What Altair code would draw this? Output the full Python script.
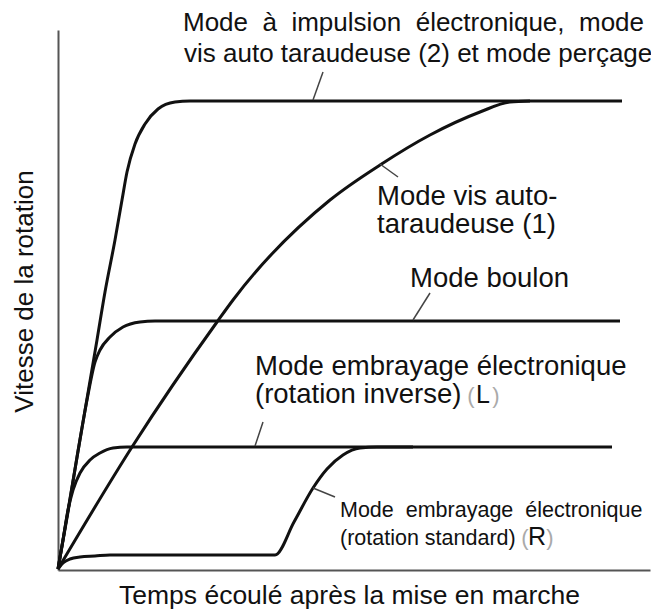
import altair as alt
import pandas as pd

# ---- curve data (time after start, rotation speed) ----
impulse_t = [0, 39, 47, 57, 64, 69, 77, 87, 100, 117, 132, 564]
impulse_v = [1, 230, 278, 330, 370, 398, 426, 446, 461, 468, 469, 469]
vis1_t = [0, 74, 159, 175, 272, 322, 372, 422, 452, 472]
vis1_v = [1, 123, 248, 270, 370, 405, 435, 458, 468, 469]
bolt_t = [0, 10, 19, 29, 37, 42, 52, 65, 82, 97, 562]
bolt_v = [1, 58, 113, 170, 208, 220, 233, 243, 248, 249, 249]
rev_t = [0, 5, 10, 15, 22, 32, 42, 55, 69, 554]
rev_v = [1, 30, 60, 80, 97, 110, 117, 122, 123, 123]
std_t = [0, 5, 12, 22, 37, 52, 217, 236, 255, 269, 285, 302, 319, 355]
std_v = [1, 7, 11, 13, 14, 15, 15, 48, 82, 101, 115, 122, 123, 123]

# ---- annotation texts ----
top_labels = [
    "Mode\u00a0 à\u00a0 impulsion\u00a0 électronique,\u00a0 mode",
    "vis auto taraudeuse (2) et mode perçage",
]
top_lx = [125, 126]
top_ly = [539, 508]

big_labels = [
    "Mode vis auto-",
    "taraudeuse (1)",
    "Mode boulon",
    "Mode embrayage électronique",
    "(rotation inverse)",
]
big_lx = [319, 319, 352, 197, 197]
big_ly = [365, 337, 283, 195, 167]

small_labels = ["Mode\u00a0\u00a0embrayage\u00a0\u00a0électronique", "(rotation standard)"]
small_lx = [282, 282]
small_ly = [53, 25]

sym_letters = ["L", "R"]
sym_x = [425, 479]
sym_y = [167, 25]
br_left_x = [413, 467]
br_right_x = [438, 492]

# leader lines
lead_x = [255, 322, 355, 197, 255]
lead_y = [470, 406, 250, 124, 82]
lead_x2 = [265, 340, 372, 205, 277]
lead_y2 = [498, 393, 277, 148, 73]

series = []
for name, ts, vs in [
    ("impulse", impulse_t, impulse_v),
    ("vis1", vis1_t, vis1_v),
    ("bolt", bolt_t, bolt_v),
    ("rev", rev_t, rev_v),
    ("std", std_t, std_v),
]:
    for t, v in zip(ts, vs):
        series.append({"mode": name, "t": t, "v": v})
curves_df = pd.DataFrame(series)

FONT = "Liberation Sans, Arial, Helvetica, sans-serif"

xscale = alt.Scale(domain=[0, 592], nice=False, zero=False)
yscale = alt.Scale(domain=[0, 540], nice=False, zero=False)

x_axis = alt.Axis(
    title="Temps écoulé après la mise en marche",
    labels=False, ticks=False, grid=False,
    domainColor="#555", domainWidth=2,
    titleFont=FONT, titleFontSize=26.5, titleFontWeight="normal", titleColor="#111",
    titleX=291, titleY=33, titleBaseline="alphabetic", titleAlign="center",
)
y_axis = alt.Axis(
    title="Vitesse de la rotation",
    labels=False, ticks=False, grid=False,
    domainColor="#555", domainWidth=2,
    titleFont=FONT, titleFontSize=26, titleFontWeight="normal", titleColor="#111",
    titleX=-26, titleY=261, titleBaseline="alphabetic", titleAlign="center", titleAngle=270,
)

curves = alt.Chart(curves_df).mark_line(
    color="#111", strokeWidth=3, interpolate="monotone"
).encode(
    x=alt.X("t:Q", scale=xscale, axis=x_axis),
    y=alt.Y("v:Q", scale=yscale, axis=y_axis),
    detail="mode:N",
)

lead_df = pd.DataFrame({"x": lead_x, "y": lead_y, "x2": lead_x2, "y2": lead_y2})
leaders = alt.Chart(lead_df).mark_rule(color="#444", strokeWidth=1.5).encode(
    x=alt.X("x:Q", scale=xscale), y=alt.Y("y:Q", scale=yscale), x2="x2:Q", y2="y2:Q"
)

top_df = pd.DataFrame({"label": top_labels, "x": top_lx, "y": top_ly})
top_text = alt.Chart(top_df).mark_text(
    align="left", baseline="alphabetic", font=FONT, fontSize=26, color="#111"
).encode(x=alt.X("x:Q", scale=xscale), y=alt.Y("y:Q", scale=yscale), text="label:N")

big_df = pd.DataFrame({"label": big_labels, "x": big_lx, "y": big_ly})
big_text = alt.Chart(big_df).mark_text(
    align="left", baseline="alphabetic", font=FONT, fontSize=27.5, color="#111"
).encode(x=alt.X("x:Q", scale=xscale), y=alt.Y("y:Q", scale=yscale), text="label:N")

small_df = pd.DataFrame({"label": small_labels, "x": small_lx, "y": small_ly})
small_text = alt.Chart(small_df).mark_text(
    align="left", baseline="alphabetic", font=FONT, fontSize=21.5, color="#111"
).encode(x=alt.X("x:Q", scale=xscale), y=alt.Y("y:Q", scale=yscale), text="label:N")

sym_df = pd.DataFrame({"s": sym_letters, "x": sym_x, "y": sym_y,
                       "xl": br_left_x, "xr": br_right_x})
sym_text = alt.Chart(sym_df).mark_text(
    align="center", baseline="alphabetic", font=FONT, fontSize=25, color="#111"
).encode(x=alt.X("x:Q", scale=xscale), y=alt.Y("y:Q", scale=yscale), text="s:N")
br_l = alt.Chart(sym_df).mark_text(
    align="center", baseline="alphabetic", font=FONT, fontSize=22, color="#aaa", text="("
).encode(x=alt.X("xl:Q", scale=xscale), y=alt.Y("y:Q", scale=yscale))
br_r = alt.Chart(sym_df).mark_text(
    align="center", baseline="alphabetic", font=FONT, fontSize=22, color="#aaa", text=")"
).encode(x=alt.X("xr:Q", scale=xscale), y=alt.Y("y:Q", scale=yscale))

chart = alt.layer(curves, leaders, top_text, big_text, small_text, sym_text, br_l, br_r).properties(
    width=592, height=540,
    autosize=alt.AutoSizeParams(type="none"),
    padding={"left": 50, "top": 22, "right": 1, "bottom": 39},
    background="white",
).configure_view(stroke=None)

chart.save("out.html", embed_options={"renderer": "svg", "actions": False})
